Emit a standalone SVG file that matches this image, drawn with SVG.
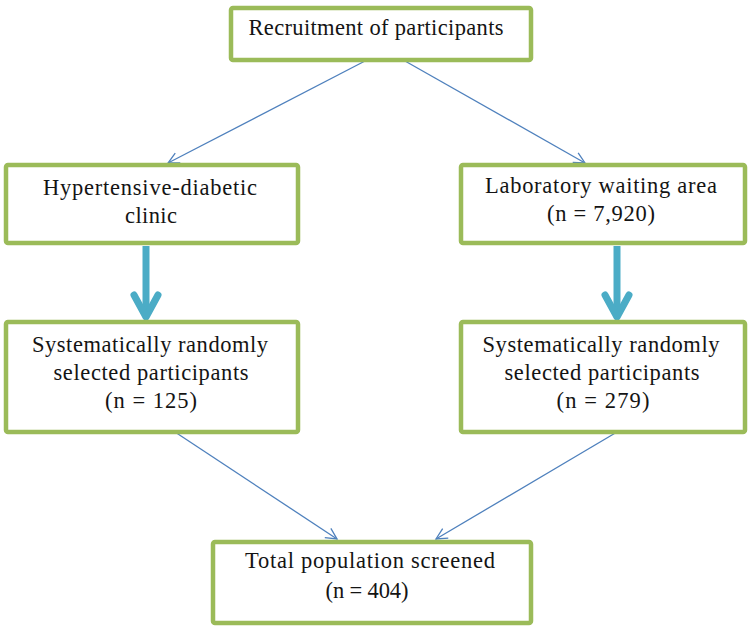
<svg xmlns="http://www.w3.org/2000/svg" width="752" height="632" viewBox="0 0 752 632">
<defs>
<style>
.box{fill:#fff;stroke:#9BBB59;stroke-width:4.5}
.t{font-family:"Liberation Serif","Times New Roman",serif;font-size:22.5px;fill:#141414;text-anchor:middle}
.thin{stroke:#4F81BD;stroke-width:1.3;fill:none}
.thick{stroke:#4BACC6;stroke-width:7;fill:none}
</style>
<marker id="ah" markerUnits="userSpaceOnUse" markerWidth="16" markerHeight="16" viewBox="-14 -8 16 16" refX="0" refY="0" orient="auto">
<path d="M-11,-5.5 L0,0 L-11,5.5" fill="none" stroke="#4F81BD" stroke-width="1.3"/>
</marker>
<marker id="ahk" markerUnits="userSpaceOnUse" markerWidth="40" markerHeight="40" viewBox="-30 -20 36 40" refX="0" refY="0" orient="auto">
<path d="M-22,-12 L0,0 L-22,12" fill="none" stroke="#4BACC6" stroke-width="7" stroke-linecap="round" stroke-linejoin="round"/>
</marker>
</defs>
<rect width="752" height="632" fill="#fff"/>
<g id="connectors">
<line class="thin" x1="365" y1="61" x2="168" y2="163" marker-end="url(#ah)"/>
<line class="thin" x1="405" y1="61" x2="585" y2="163" marker-end="url(#ah)"/>
<line class="thick" x1="146" y1="246" x2="146" y2="317" marker-end="url(#ahk)"/>
<line class="thick" x1="617" y1="246" x2="617" y2="317" marker-end="url(#ahk)"/>
<line class="thin" x1="175" y1="432" x2="337" y2="539" marker-end="url(#ah)"/>
<line class="thin" x1="617" y1="432" x2="436" y2="539" marker-end="url(#ah)"/>
</g>
<g id="n-recruit">
<rect class="box" x="231" y="8" width="300" height="52" rx="2"/>
<text class="t" x="376" y="35" textLength="255" lengthAdjust="spacing">Recruitment of participants</text>
</g>
<g id="n-clinic">
<rect class="box" x="6" y="165" width="292" height="78" rx="2"/>
<text class="t" x="150" y="195" textLength="214" lengthAdjust="spacing">Hypertensive-diabetic</text>
<text class="t" x="151" y="223" textLength="52" lengthAdjust="spacing">clinic</text>
</g>
<g id="n-lab">
<rect class="box" x="461" y="165" width="284" height="78" rx="2"/>
<text class="t" x="601" y="193" textLength="232" lengthAdjust="spacing">Laboratory waiting area</text>
<text class="t" x="601" y="221" textLength="108" lengthAdjust="spacing">(n = 7,920)</text>
</g>
<g id="n-sel-left">
<rect class="box" x="6" y="322" width="292" height="110" rx="2"/>
<text class="t" x="150" y="352" textLength="236" lengthAdjust="spacing">Systematically randomly</text>
<text class="t" x="151" y="380" textLength="195" lengthAdjust="spacing">selected participants</text>
<text class="t" x="151" y="408" textLength="92" lengthAdjust="spacing">(n = 125)</text>
</g>
<g id="n-sel-right">
<rect class="box" x="461" y="322" width="284" height="110" rx="2"/>
<text class="t" x="601" y="352" textLength="237" lengthAdjust="spacing">Systematically randomly</text>
<text class="t" x="602" y="380" textLength="195" lengthAdjust="spacing">selected participants</text>
<text class="t" x="603" y="408" textLength="93" lengthAdjust="spacing">(n = 279)</text>
</g>
<g id="n-total">
<rect class="box" x="213" y="542" width="318" height="81" rx="2"/>
<text class="t" x="370" y="568" textLength="250" lengthAdjust="spacing">Total population screened</text>
<text class="t" x="367" y="598" textLength="83" lengthAdjust="spacing">(n = 404)</text>
</g>
</svg>
